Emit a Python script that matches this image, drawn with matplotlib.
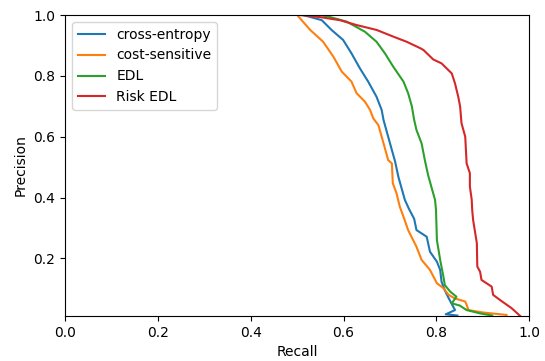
import matplotlib
matplotlib.use('Agg')
import matplotlib.pyplot as plt

# precision / recall points for each model
ce_recall = [0.502, 0.513, 0.553, 0.574, 0.599, 0.617, 0.635, 0.653, 0.671, 0.682, 0.686,
             0.696, 0.704, 0.711, 0.718, 0.725, 0.732, 0.741, 0.752, 0.757, 0.779, 0.786,
             0.801, 0.808, 0.811, 0.818, 0.826, 0.833, 0.840, 0.820, 0.845]
ce_precision = [1.0, 1.0, 0.983, 0.951, 0.918, 0.874, 0.825, 0.781, 0.731, 0.688, 0.655,
                0.600, 0.556, 0.518, 0.468, 0.430, 0.392, 0.362, 0.330, 0.293, 0.271, 0.222,
                0.189, 0.162, 0.123, 0.095, 0.070, 0.050, 0.030, 0.016, 0.012]

cs_recall = [0.500, 0.528, 0.556, 0.578, 0.596, 0.617, 0.628, 0.646, 0.657, 0.664, 0.675,
             0.682, 0.689, 0.696, 0.704, 0.706, 0.714, 0.721, 0.729, 0.739, 0.757, 0.768,
             0.786, 0.801, 0.815, 0.826, 0.840, 0.862, 0.865, 0.869, 0.900, 0.951]
cs_precision = [1.0, 0.951, 0.912, 0.863, 0.814, 0.781, 0.743, 0.715, 0.688, 0.660, 0.638,
                0.600, 0.562, 0.523, 0.512, 0.447, 0.414, 0.370, 0.337, 0.293, 0.238, 0.195,
                0.162, 0.118, 0.102, 0.080, 0.068, 0.058, 0.047, 0.030, 0.022, 0.014]

edl_recall = [0.549, 0.567, 0.607, 0.646, 0.671, 0.689, 0.707, 0.729, 0.739, 0.747, 0.752,
              0.757, 0.768, 0.775, 0.782, 0.790, 0.797, 0.799, 0.801, 0.808, 0.815, 0.818,
              0.830, 0.843, 0.833, 0.850, 0.865, 0.894, 0.920]
edl_precision = [1.0, 0.995, 0.978, 0.945, 0.912, 0.874, 0.830, 0.781, 0.743, 0.700, 0.655,
                 0.622, 0.578, 0.523, 0.474, 0.430, 0.392, 0.360, 0.260, 0.195, 0.140, 0.112,
                 0.090, 0.074, 0.052, 0.045, 0.030, 0.019, 0.012]

risk_recall = [0.506, 0.550, 0.592, 0.628, 0.671, 0.707, 0.736, 0.765, 0.772, 0.793, 0.811,
               0.833, 0.840, 0.847, 0.851, 0.854, 0.862, 0.865, 0.872, 0.872, 0.876, 0.877,
               0.879, 0.887, 0.888, 0.894, 0.897, 0.919, 0.922, 0.937, 0.962, 0.980]
risk_precision = [1.0, 0.993, 0.983, 0.967, 0.951, 0.929, 0.912, 0.891, 0.885, 0.854, 0.841,
                  0.808, 0.775, 0.731, 0.699, 0.644, 0.600, 0.512, 0.480, 0.436, 0.392, 0.359,
                  0.326, 0.250, 0.173, 0.156, 0.129, 0.107, 0.080, 0.063, 0.036, 0.011]

fig = plt.figure(figsize=(5.45, 3.61), dpi=100)
ax = fig.add_subplot(111)
fig.subplots_adjust(left=0.1193, right=0.9712, top=0.9584, bottom=0.1247)

ax.plot(ce_recall, ce_precision, color='tab:blue', lw=1.5, label='cross-entropy')
ax.plot(cs_recall, cs_precision, color='tab:orange', lw=1.5, label='cost-sensitive')
ax.plot(edl_recall, edl_precision, color='tab:green', lw=1.5, label='EDL')
ax.plot(risk_recall, risk_precision, color='tab:red', lw=1.5, label='Risk EDL')

ax.set_xlim(0, 1)
ax.set_ylim(0.0105, 1.0)
ax.set_xlabel('Recall')
ax.set_ylabel('Precision')
ax.legend(loc='upper left')

fig.savefig('out.png', dpi=100)
